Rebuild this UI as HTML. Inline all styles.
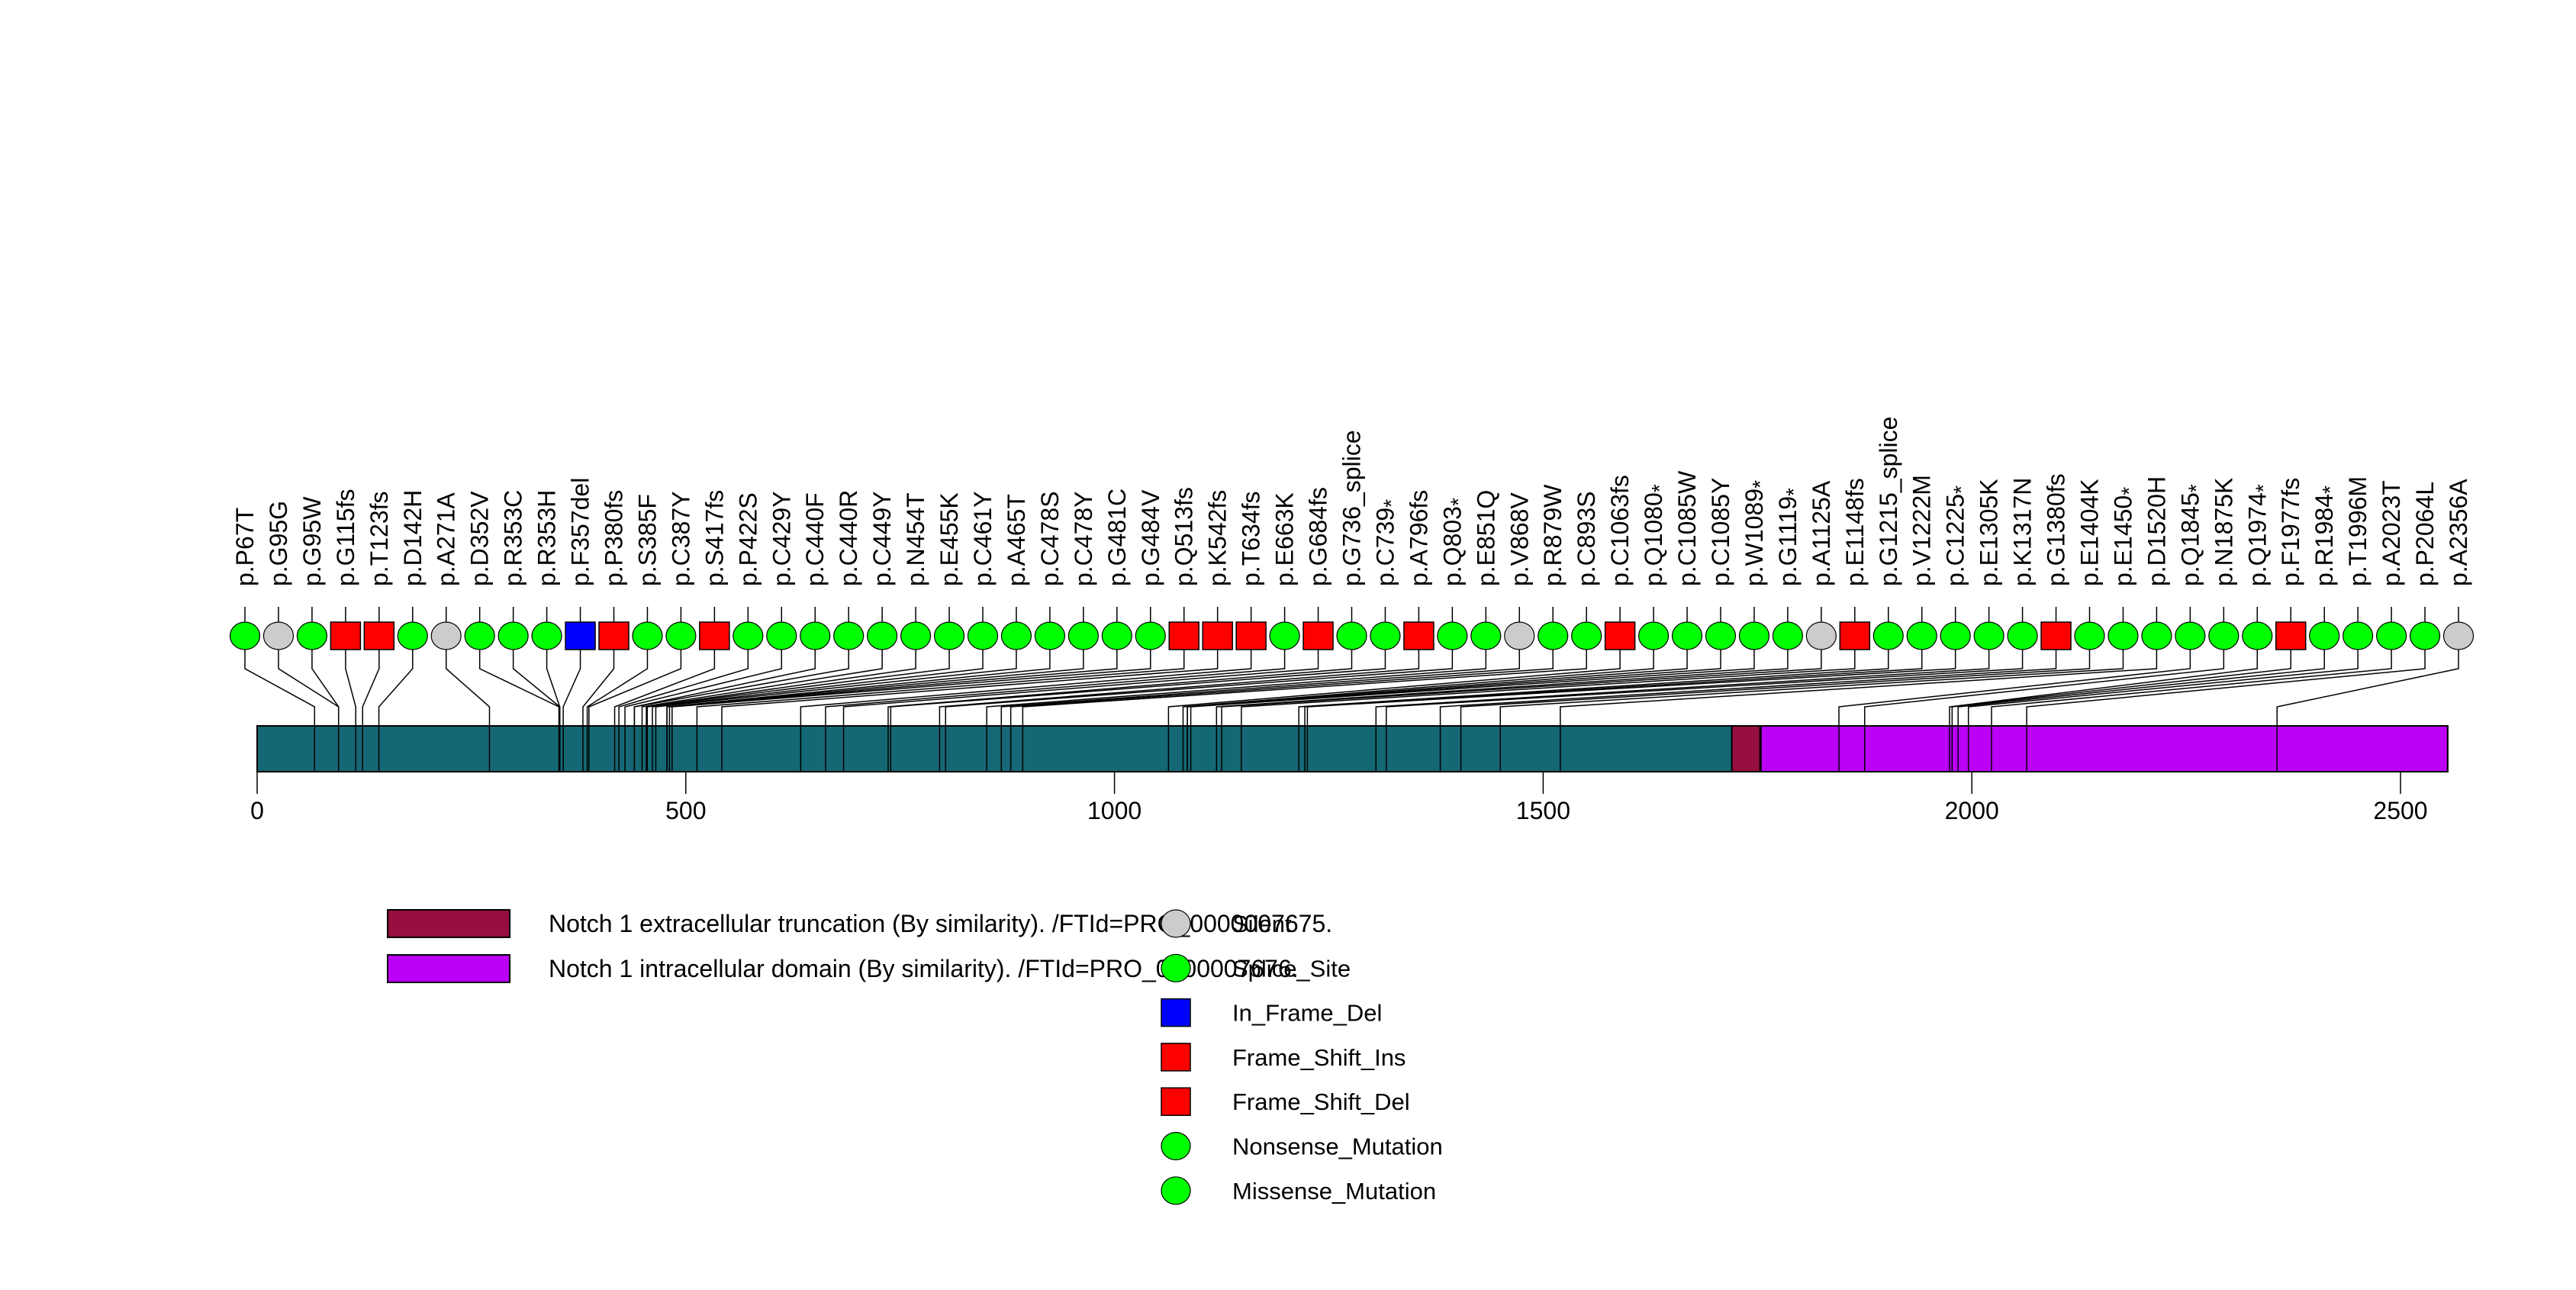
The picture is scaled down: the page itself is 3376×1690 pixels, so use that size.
<!DOCTYPE html>
<html><head><meta charset="utf-8"><style>html,body{margin:0;padding:0;background:#fff}svg{display:block}</style></head>
<body>
<svg id="chart" xmlns="http://www.w3.org/2000/svg" width="3376" height="1690" viewBox="0 0 3376 1690" font-family="Liberation Sans, Arial, sans-serif"></svg>
<script>
const proteinLength = 2555;
const domainNames = ["Notch 1 extracellular truncation (By similarity). /FTId=PRO_0000007675.","Notch 1 intracellular domain (By similarity). /FTId=PRO_0000007676."];
const domainStarts = [1720, 1754];
const domainEnds = [1753, 2555];
const domainColors = ["#970e40", "#bb00f7"];
const mutLabels = ["p.P67T","p.G95G","p.G95W","p.G115fs","p.T123fs","p.D142H","p.A271A","p.D352V","p.R353C","p.R353H","p.F357del","p.P380fs","p.S385F","p.C387Y","p.S417fs","p.P422S","p.C429Y","p.C440F","p.C440R","p.C449Y","p.N454T","p.E455K","p.C461Y","p.A465T","p.C478S","p.C478Y","p.G481C","p.G484V","p.Q513fs","p.K542fs","p.T634fs","p.E663K","p.G684fs","p.G736_splice","p.C739*","p.A796fs","p.Q803*","p.E851Q","p.V868V","p.R879W","p.C893S","p.C1063fs","p.Q1080*","p.C1085W","p.C1085Y","p.W1089*","p.G1119*","p.A1125A","p.E1148fs","p.G1215_splice","p.V1222M","p.C1225*","p.E1305K","p.K1317N","p.G1380fs","p.E1404K","p.E1450*","p.D1520H","p.Q1845*","p.N1875K","p.Q1974*","p.F1977fs","p.R1984*","p.T1996M","p.A2023T","p.P2064L","p.A2356A"];
const mutPositions = [67,95,95,115,123,142,271,352,353,353,357,380,385,387,417,422,429,440,440,449,454,455,461,465,478,478,481,484,513,542,634,663,684,736,739,796,803,851,868,879,893,1063,1080,1085,1085,1089,1119,1125,1148,1215,1222,1225,1305,1317,1380,1404,1450,1520,1845,1875,1974,1977,1984,1996,2023,2064,2356];
const axisTicks = [0,500,1000,1500,2000,2500];
const legendTypes = ["Silent","Splice_Site","In_Frame_Del","Frame_Shift_Ins","Frame_Shift_Del","Nonsense_Mutation","Missense_Mutation"];

const NS="http://www.w3.org/2000/svg";
const svg=document.getElementById('chart');
const X=p=>337+p*1.1236;
const barTop=951, barBot=1011, cy=833;
function el(tag,attrs,parent){const e=document.createElementNS(NS,tag);for(const k in attrs)e.setAttribute(k,attrs[k]);(parent||svg).appendChild(e);return e;}
function mutType(l){ if(/fs$/.test(l))return 'fs'; if(/del$/.test(l))return 'del'; const m=l.match(/^p\.([A-Z])\d+([A-Z])$/); if(m&&m[1]===m[2])return 'silent'; return 'mis';}

const bar=el('rect',{x:X(0),y:barTop,width:X(proteinLength)-X(0),height:barBot-barTop,fill:'#146873',stroke:'#000','stroke-width':2});


domainStarts.forEach((s,i)=>{
  const d=el('rect',{x:X(s),y:barTop,width:X(domainEnds[i])-X(s),height:barBot-barTop,fill:domainColors[i],stroke:'#000','stroke-width':2});
  
  
});
const ax=el('line',{x1:X(axisTicks[0]),x2:X(axisTicks[axisTicks.length-1]),y1:barBot,y2:barBot,stroke:'#000','stroke-width':2});


axisTicks.forEach(t=>{
  el('line',{x1:X(t),x2:X(t),y1:barBot,y2:1040,stroke:'#000','stroke-width':1.5});
  const tx=el('text',{x:X(t),y:1073,'font-size':32,'text-anchor':'middle'});
  tx.textContent=t;
  
  
});
const n=mutLabels.length, x0=321, x1=3222, step=(x1-x0)/(n-1);
mutLabels.forEach((lab,i)=>{
  const cx=x0+i*step, px=X(mutPositions[i]);
  const g=el('g',{});
  
  
  el('polyline',{points:`${cx},795 ${cx},876 ${px},926 ${px},${barBot}`,fill:'none',stroke:'#000','stroke-width':1.5},g);
  const t=mutType(lab);
  if(t==='fs'||t==='del'){
    el('rect',{x:cx-19.5,y:cy-18,width:39,height:36,fill:t==='fs'?'#ff0000':'#0000ff',stroke:'#000','stroke-width':1.5},g);
  } else {
    el('ellipse',{cx:cx,cy:cy,rx:19.5,ry:18,fill:t==='silent'?'#cccccc':'#00ff00',stroke:'#000','stroke-width':1.2},g);
  }
  const tx=el('text',{transform:`translate(${cx+11},768) rotate(-90)`,'font-size':32},g);
  const star=lab.endsWith('*');
  tx.textContent=star?lab.slice(0,-1):lab;
  if(star){const ts=el('tspan',{'font-size':28,dy:6},tx);ts.textContent='*';}
});
domainNames.forEach((nm,i)=>{
  const y=1192+i*59;
  const r=el('rect',{x:508,y:y,width:160,height:36,fill:domainColors[i],stroke:'#000','stroke-width':2});
  
  
  const t=el('text',{x:719,y:y+29,'font-size':32});
  t.textContent=nm;
  
  
});
legendTypes.forEach((nm,i)=>{
  const y=1210+i*58.3;
  let s;
  if(i===2||i===3||i===4) s=el('rect',{x:1522,y:y-18,width:38,height:36,fill:i===2?'#0000ff':'#ff0000',stroke:'#000','stroke-width':1.5});
  else s=el('ellipse',{cx:1541,cy:y,rx:19,ry:18,fill:i===0?'#cccccc':'#00ff00',stroke:'#000','stroke-width':1.2});
  
  
  const t=el('text',{x:1615,y:y+11,'font-size':31});
  t.textContent=nm;
  
  
});
</script>
</body></html>
